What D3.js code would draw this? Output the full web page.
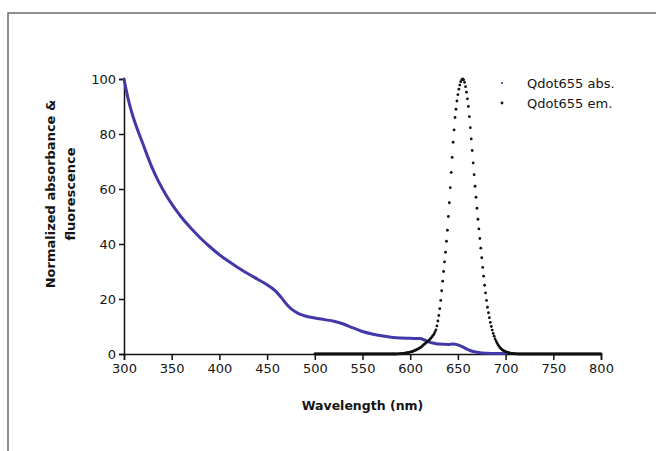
<!DOCTYPE html>
<html>
<head>
<meta charset="utf-8">
<script src="https://cdn.jsdelivr.net/npm/d3@7"></script>
<style>
  body { margin: 0; background: #fff; }
  text { font-family: "DejaVu Sans", sans-serif; fill: #151515; }
</style>
</head>
<body>
<div id="chart"></div>
<script>
// absorbance (blue)
var absWl  = [300,302,304,306,308,310,315,320,325,330,335,340,345,350,355,360,370,380,390,400,
              410,420,430,440,450,455,460,465,470,475,480,485,490,500,510,520,530,540,550,560,
              570,580,590,600,610,615,620,625,630,640,645,650,655,660,665,670,675,680,690,700];
var absVal = [100,96.5,93.3,90.5,88,85.7,80.8,76.3,71.6,67.3,63.6,60.3,57.3,54.6,52.1,49.8,45.8,42.2,39,36.1,
              33.6,31.3,29.2,27.2,25.2,24,22.5,20.5,18.3,16.5,15.3,14.4,13.8,13.1,12.5,11.9,10.9,9.5,8.2,7.3,
              6.6,6.1,5.8,5.7,5.6,5.1,4.3,3.9,3.6,3.5,3.6,3.3,2.6,1.7,1.0,0.6,0.4,0.3,0.2,0.2];

// emission (black dots), one value per nm from 500 to 800
var emStart = 500;
var emVal = [
  0,0,0,0,0,0,0,0,0,0, 0,0,0,0,0,0,0,0,0,0,            // 500-519
  0,0,0,0,0,0,0,0,0,0, 0,0,0,0,0,0,0,0,0,0,            // 520-539
  0,0,0,0,0,0,0,0,0,0, 0,0,0,0,0,0,0,0,0,0,            // 540-559
  0,0,0,0,0,0,0,0,0,0, 0,0,0,0,0,0,0,0,0,0,            // 560-579
  0,0,0,0,0,0,0,0.05,0.05,0.1,                        // 580-589
  0.1,0.15,0.2,0.25,0.3,0.35,0.4,0.5,0.55,0.6,        // 590-599
  0.7,0.8,0.9,1.0,1.15,1.3,1.45,1.6,1.8,2.0,          // 600-609
  2.2,2.4,2.7,3.0,3.3,3.6,3.9,4.2,4.5,4.8,            // 610-619
  5.1,5.5,5.9,6.3,6.8,7.3,8,8.8,10.2,12,              // 620-629
  14,16.5,19.5,23,26.5,30,33.5,37,41,45,              // 630-639
  50,55,60.5,66,71.5,77,81.5,86,89,92,                // 640-649
  94.3,96.3,97.8,99,99.7,100,99.7,98.8,97.2,95.2,     // 650-659
  92.8,90,86.3,82.3,78.2,74,69.5,65.2,61,57,          // 660-669
  53,49,45.5,42,38.5,35,31.5,28.3,25,22.2,            // 670-679
  19.5,17,15,13.2,11.5,10,8.7,7.5,6.5,5.5,            // 680-689
  4.7,4,3.4,2.9,2.4,2,1.7,1.4,1.2,1,                  // 690-699
  0.85,0.7,0.6,0.5,0.4,0.3,0.25,0.2,0.15,0.1,         // 700-709
  0.1,0.05,0.05,0,0,0,0,0,0,0,                        // 710-719
  0,0,0,0,0,0,0,0,0,0, 0,0,0,0,0,0,0,0,0,0,            // 720-739
  0,0,0,0,0,0,0,0,0,0, 0,0,0,0,0,0,0,0,0,0,            // 740-759
  0,0,0,0,0,0,0,0,0,0, 0,0,0,0,0,0,0,0,0,0,            // 760-779
  0,0,0,0,0,0,0,0,0,0, 0,0,0,0,0,0,0,0,0,0,            // 780-799
  0                                                    // 800
];

var xTicks = [300,350,400,450,500,550,600,650,700,750,800];
var yTicks = [0,20,40,60,80,100];
var legendLabels = ['Qdot655 abs.', 'Qdot655 em.'];
var absColor = '#4338a8', emColor = '#111';

(function (){
  var width = 656, height = 451;

  var svg = d3.select('#chart')
            .append('svg')
            .attr('width', width)
            .attr('height', height);

  svg.append('rect').attr('width', width).attr('height', height).attr('fill', '#fff');

  // scanned page frame (only top + left visible)
  svg.append('path')
     .attr('d', 'M8,' + height + 'V13H' + width)
     .attr('fill', 'none')
     .attr('stroke', '#6a6a6a')
     .attr('stroke-width', 1.5);

  var x = d3.scaleLinear().domain([300, 800]).range([124, 601]);
  var y = d3.scaleLinear().domain([0, 100]).range([354, 79]);

  // axes
  var xAxis = svg.append('g')
                 .attr('transform', 'translate(0,' + y(0) + ')')
                 .call(d3.axisBottom(x).tickValues(xTicks).tickSize(6).tickPadding(4).tickFormat(d3.format('d')));
  var yAxis = svg.append('g')
                 .attr('transform', 'translate(' + x(300) + ',0)')
                 .call(d3.axisLeft(y).tickValues(yTicks).tickSize(5).tickPadding(3).tickFormat(d3.format('d')));

  [xAxis, yAxis].forEach(function (g){
    g.select('.domain').attr('stroke', '#111').attr('stroke-width', 1.5);
    g.selectAll('.tick line').attr('stroke', '#111').attr('stroke-width', 1.5);
    g.selectAll('.tick text').attr('font-size', 13).attr('font-family', '"DejaVu Sans", sans-serif').attr('fill', '#151515');
  });

  // absorbance curve
  var absPts = absWl.map(function (d, i){ return [d, absVal[i]]; });
  var line = d3.line()
               .x(function (d){ return x(d[0]); })
               .y(function (d){ return y(d[1]); })
               .curve(d3.curveMonotoneX);
  svg.append('path')
     .datum(absPts)
     .attr('d', line)
     .attr('fill', 'none')
     .attr('stroke', absColor)
     .attr('stroke-width', 3)
     .attr('stroke-linecap', 'round');

  // emission dots
  var emPts = emVal.map(function (v, i){ return [emStart + i, v]; });
  svg.append('g').selectAll('circle')
     .data(emPts)
     .enter().append('circle')
     .attr('cx', function (d){ return x(d[0]); })
     .attr('cy', function (d){ return y(d[1]); })
     .attr('r', 1.4)
     .attr('fill', emColor);

  // axis titles
  svg.append('text')
     .attr('x', (x(300) + x(800)) / 2)
     .attr('y', 410)
     .attr('text-anchor', 'middle')
     .attr('font-size', 12.5)
     .attr('font-weight', 'bold')
     .text('Wavelength (nm)');

  var yt = svg.append('text')
              .attr('transform', 'translate(55,194) rotate(-90)')
              .attr('text-anchor', 'middle')
              .attr('font-size', 13)
              .attr('font-weight', 'bold');
  yt.append('tspan').attr('x', 0).attr('y', 0).text('Normalized absorbance &');
  yt.append('tspan').attr('x', 0).attr('y', 20).text('fluorescence');

  // legend
  var legend = svg.append('g');
  legendLabels.forEach(function (lbl, i){
    legend.append('circle')
          .attr('cx', 502).attr('cy', 83 + i * 20)
          .attr('r', i === 0 ? 1.1 : 1.4)
          .attr('fill', i === 0 ? absColor : emColor);
    legend.append('text')
          .attr('x', 527).attr('y', 88 + i * 20)
          .attr('font-size', 13)
          .text(lbl);
  });
})();
</script>
</body>
</html>
